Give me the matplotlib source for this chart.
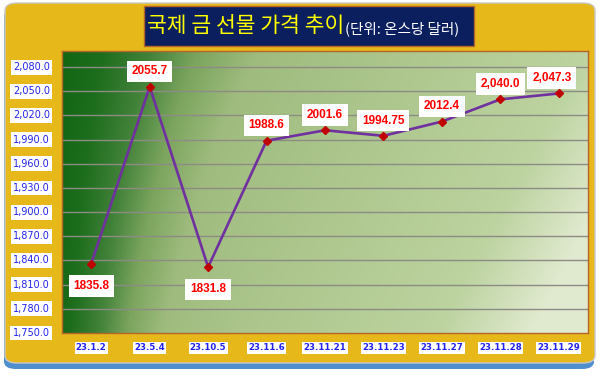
import numpy as np
import matplotlib.pyplot as plt
from matplotlib.patches import FancyBboxPatch, Rectangle
from matplotlib.colors import LinearSegmentedColormap

plt.rcParams['font.family'] = ['Noto Sans CJK KR', 'DejaVu Sans']

dates = ["23.1.2", "23.5.4", "23.10.5", "23.11.6", "23.11.21",
         "23.11.23", "23.11.27", "23.11.28", "23.11.29"]
prices = [1835.8, 2055.7, 1831.8, 1988.6, 2001.6, 1994.75, 2012.4, 2040.0, 2047.3]
price_labels = ["1835.8", "2055.7", "1831.8", "1988.6", "2001.6",
                "1994.75", "2012.4", "2,040.0", "2,047.3"]
label_below = [True, False, True, False, False, False, False, False, False]
yticks = np.arange(1750, 2081, 30)

W, H = 600, 376
fig = plt.figure(figsize=(6, 3.76), dpi=100)
fig.patch.set_facecolor("white")

# shadow + gold frame
fig.patches.append(FancyBboxPatch((4 / W, 1 - 369 / H), 590 / W, 360 / H,
                                  boxstyle="round,pad=0,rounding_size=0.02",
                                  transform=fig.transFigure, facecolor="#4f8fd0",
                                  edgecolor="none", zorder=0))
fig.patches.append(FancyBboxPatch((5 / W, 1 - 363 / H), 590 / W, 360 / H,
                                  boxstyle="round,pad=0,rounding_size=0.02",
                                  transform=fig.transFigure, facecolor="#e6b81a",
                                  edgecolor="#c9c9c9", lw=1, zorder=1))

ax = fig.add_axes([62 / W, 1 - 333 / H, 526 / W, 282 / H])
ax.set_zorder(2)

# gradient background
cmap = LinearSegmentedColormap.from_list(
    "bg", [(0, "#136713"), (0.06, "#1c6d1c"), (0.14, "#428239"), (0.22, "#7ca55f"),
           (0.32, "#9fbc7e"), (0.85, "#bdd3a0"), (1, "#e0eacf")])
gx, gy = np.meshgrid(np.linspace(0, 1, 400), np.linspace(0, 1, 200))
grad = np.clip(gx * 0.85 + gy * 0.2 * np.minimum(1, gx * 3) + gy * 0.04, 0, 1)
ax.imshow(grad, cmap=cmap, aspect="auto", extent=(-0.5, len(dates) - 0.5, 1750, 2100),
          origin="upper", zorder=0, vmin=0, vmax=1, interpolation="bilinear")

x = np.arange(len(dates))
ax.set_xlim(-0.5, len(dates) - 0.5)
ax.set_ylim(1750, 2100)
for yv in yticks[1:]:
    ax.axhline(yv, color="#8c8c84", lw=1, zorder=1)

ax.plot(x, prices, color="#7030a0", lw=1.9, zorder=3)
ax.plot(x, prices, "D", color="#c00000", ms=4, zorder=4)

for i, (xi, p, lab, below) in enumerate(zip(x, prices, price_labels, label_below)):
    off = -16 if below else 11
    dx = -5 if i == len(x) - 1 else 0
    ax.annotate(lab, (xi, p), xytext=(dx, off), textcoords="offset points",
                ha="center", va="center", fontsize=8.5, fontweight="bold",
                color="#ff0000", family="Liberation Sans",
                bbox=dict(boxstyle="square,pad=0.4", fc="white", ec="none"), zorder=5)

ax.set_xticks([])
ax.set_yticks([])
for s in ax.spines.values():
    s.set_color("#b5652a")
    s.set_linewidth(1)

for yv in yticks:
    ax.text(-0.023, yv, f"{yv:,.1f}", transform=ax.get_yaxis_transform(),
            ha="right", va="center", fontsize=7, color="#2222ee", family="DejaVu Sans",
            bbox=dict(boxstyle="square,pad=0.25", fc="white", ec="none"))

for xi, d in zip(x, dates):
    ax.text(xi, -0.053, d, transform=ax.get_xaxis_transform(), ha="center", va="center",
            fontsize=6.2, fontweight="bold", color="#2222ee", family="DejaVu Sans",
            bbox=dict(boxstyle="square,pad=0.15", fc="white", ec="none"))

# title box
fig.patches.append(Rectangle((144 / W, 1 - 46 / H), 330 / W, 40 / H,
                             transform=fig.transFigure, facecolor="#0b1f5e",
                             edgecolor="#b5652a", lw=1, zorder=3))
t1 = fig.text(147 / W, 1 - 26 / H, "국제 금 선물 가격 추이", fontsize=15.5,
              color="#ffff00", ha="left", va="center", zorder=4)
fig.canvas.draw()
bb = t1.get_window_extent()
fig.text(bb.x1 / W + 1 / W, 1 - 29 / H, "(단위: 온스당 달러)", fontsize=10.5,
         color="white", ha="left", va="center", zorder=4)

fig.savefig("out.png", dpi=100)
